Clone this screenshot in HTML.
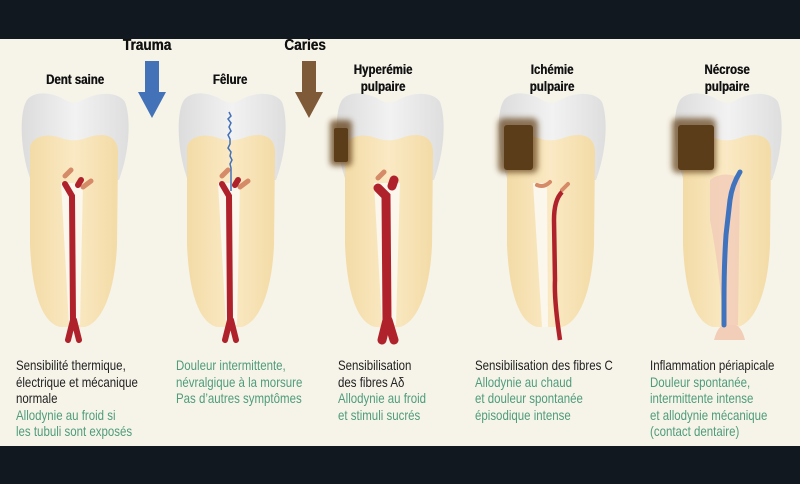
<!DOCTYPE html>
<html><head><meta charset="utf-8"><style>
html,body{margin:0;padding:0}
body{width:800px;height:484px;background:#f6f3e8;position:relative;overflow:hidden;font-family:"Liberation Sans",sans-serif}
.bar{position:absolute;left:0;width:800px;background:#111820}
.t{position:absolute;font-size:14px;line-height:16.5px;color:#222;transform:scaleX(0.82);transform-origin:0 0;white-space:nowrap}
.g{color:#4e9c7c}
.h{position:absolute;font-weight:bold;font-size:13.5px;line-height:16.5px;color:#111;text-align:center;transform:scaleX(0.85);white-space:nowrap;text-shadow:0.4px 0 0 #111}
</style></head><body>
<div class="bar" style="top:0;height:39px"></div>
<div class="bar" style="top:446px;height:38px"></div>
<svg width="800" height="484" style="position:absolute;left:0;top:0">
<defs>
<linearGradient id="cr" x1="0" x2="1"><stop offset="0" stop-color="#dcdcdc"/><stop offset=".5" stop-color="#f2f2f2"/><stop offset="1" stop-color="#dedede"/></linearGradient>
<linearGradient id="de" x1="0" x2="1"><stop offset="0" stop-color="#f3dba6"/><stop offset=".5" stop-color="#fae9c4"/><stop offset="1" stop-color="#f3dba6"/></linearGradient>
<filter id="bl" x="-50%" y="-50%" width="200%" height="200%"><feGaussianBlur stdDeviation="3"/></filter>
<g id="tooth">
<path d="M-45,178 C-55,150 -56,112 -48,100 C-40,90 -22,92 -8,101 Q0,105 8,100 C24,91 44,92 50,102 C56,118 55,150 44,180 Z" fill="url(#cr)"/>
<path d="M-45,150 C-46,138 -30,132 -14,138 Q0,143 14,137 C30,132 43,136 43,152 L42,245 C40,290 28,322 10,327 L-15,327 C-34,322 -43,290 -45,245 Z" fill="url(#de)"/>
</g>
</defs>
<path d="M145,61 H159 V92 H166 L152,118 L138,92 H145 Z" fill="#4472b8"/>
<path d="M302,61 H316 V92 H323 L309,118 L295,92 H302 Z" fill="#7f5a38"/>

<g transform="translate(75,0)">
<use href="#tooth"/>
<path d="M-14,183 L8,183 L5,325 L-6,325 Z" fill="#fbf7ec"/>
<path d="M-10,176 L-4,170" stroke="#d58a68" stroke-width="5" stroke-linecap="round"/>
<path d="M8,187 L16,181" stroke="#d58a68" stroke-width="5" stroke-linecap="round"/>
<path d="M-10,184 L-3,196 L-2,320 M3,185 L6,180 M-2,320 L-7,340 M-1,320 L4,340" stroke="#b0222b" stroke-width="6" fill="none" stroke-linecap="round"/>
</g>
<g transform="translate(232,0)">
<use href="#tooth"/>
<path d="M-14,183 L8,183 L5,325 L-6,325 Z" fill="#fbf7ec"/>
<path d="M-10,176 L-4,170" stroke="#d58a68" stroke-width="5" stroke-linecap="round"/>
<path d="M8,187 L16,181" stroke="#d58a68" stroke-width="5" stroke-linecap="round"/>
<path d="M-10,184 L-3,196 L-2,320 M3,185 L6,180 M-2,320 L-7,340 M-1,320 L4,340" stroke="#b0222b" stroke-width="6" fill="none" stroke-linecap="round"/>
<path d="M-3,112 l2,4 -3,3 3,4 -2,4 2,4 -3,4 2,4 0,5 -2,4 3,4 -1,4 2,4 -2,4 1,4 0,5 0,8 0,10" stroke="#4472b8" stroke-width="1.5" fill="none"/>
</g>
<g transform="translate(390,0)">
<use href="#tooth"/>
<path d="M-16,183 L10,183 L6,325 L-8,325 Z" fill="#fbf7ec"/>
<path d="M-12,178 L-6,172" stroke="#d58a68" stroke-width="5" stroke-linecap="round"/>
<path d="M-12,188 L-4,196 L-3,320 M2,186 L4,180 M-3,320 L-8,340 M-2,320 L4,340" stroke="#b0222b" stroke-width="9" fill="none" stroke-linecap="round"/>
<rect x="-60" y="120" width="22" height="46" rx="4" fill="#6b4a24" filter="url(#bl)" opacity=".8"/>
<rect x="-56" y="128" width="14" height="34" rx="2" fill="#5c3d1a"/>
</g>
<g transform="translate(552,0)">
<use href="#tooth"/>
<path d="M-19,183 L-5,183 L-4,327 L-10,327 Z" fill="#fbf7ec"/>
<path d="M-15,185 Q-8,188 -2,182" stroke="#d58a68" stroke-width="4" fill="none" stroke-linecap="round"/>
<path d="M10,190 L16,184" stroke="#d58a68" stroke-width="4" stroke-linecap="round"/>
<path d="M10,192 Q2,200 2,220 L3,280 Q2,300 8,340" stroke="#b0222b" stroke-width="4.5" fill="none"/>
<rect x="-54" y="118" width="40" height="55" rx="6" fill="#6b4a24" filter="url(#bl)" opacity=".75"/>
<rect x="-48" y="125" width="29" height="45" rx="3" fill="#5c3d1a"/>
</g>
<g transform="translate(728,0)">
<use href="#tooth"/>
<path d="M-18,180 Q-5,170 12,178 L10,325 L-4,325 Q-10,260 -18,220 Z" fill="#f2cdb8" opacity=".85"/>
<path d="M-14,340 Q-10,325 -3,325 L8,325 Q14,328 17,340 Z" fill="#f2cdb8"/>
<path d="M12,172 Q4,185 2,200 L-2,235 Q-4,265 -4,300 L-4,325" stroke="#3f73bd" stroke-width="5" fill="none" stroke-linecap="round"/>
<rect x="-56" y="118" width="44" height="55" rx="6" fill="#6b4a24" filter="url(#bl)" opacity=".75"/>
<rect x="-50" y="125" width="36" height="45" rx="3" fill="#5c3d1a"/>
</g>
</svg>

<div class="h" style="left:110px;top:38px;width:74px;font-size:16px">Trauma</div>
<div class="h" style="left:268px;top:38px;width:74px;font-size:16px">Caries</div>
<div class="h" style="left:35px;top:72px;width:80px">Dent saine</div>
<div class="h" style="left:190px;top:72px;width:80px">Fêlure</div>
<div class="h" style="left:333px;top:62px;width:100px">Hyperémie<br>pulpaire</div>
<div class="h" style="left:502px;top:62px;width:100px">Ichémie<br>pulpaire</div>
<div class="h" style="left:677px;top:62px;width:100px">Nécrose<br>pulpaire</div>

<div class="t" style="left:16px;top:357px">Sensibilité thermique,<br>électrique et mécanique<br>normale<br><span class="g">Allodynie au froid si<br>les tubuli sont exposés</span></div>
<div class="t g" style="left:176px;top:357px">Douleur intermittente,<br>névralgique à la morsure<br>Pas d’autres symptômes</div>
<div class="t" style="left:338px;top:357px">Sensibilisation<br>des fibres Aδ<br><span class="g">Allodynie au froid<br>et stimuli sucrés</span></div>
<div class="t" style="left:475px;top:357px">Sensibilisation des fibres C<br><span class="g">Allodynie au chaud<br>et douleur spontanée<br>épisodique intense</span></div>
<div class="t" style="left:650px;top:357px">Inflammation périapicale<br><span class="g">Douleur spontanée,<br>intermittente intense<br>et allodynie mécanique<br>(contact dentaire)</span></div>
</body></html>
